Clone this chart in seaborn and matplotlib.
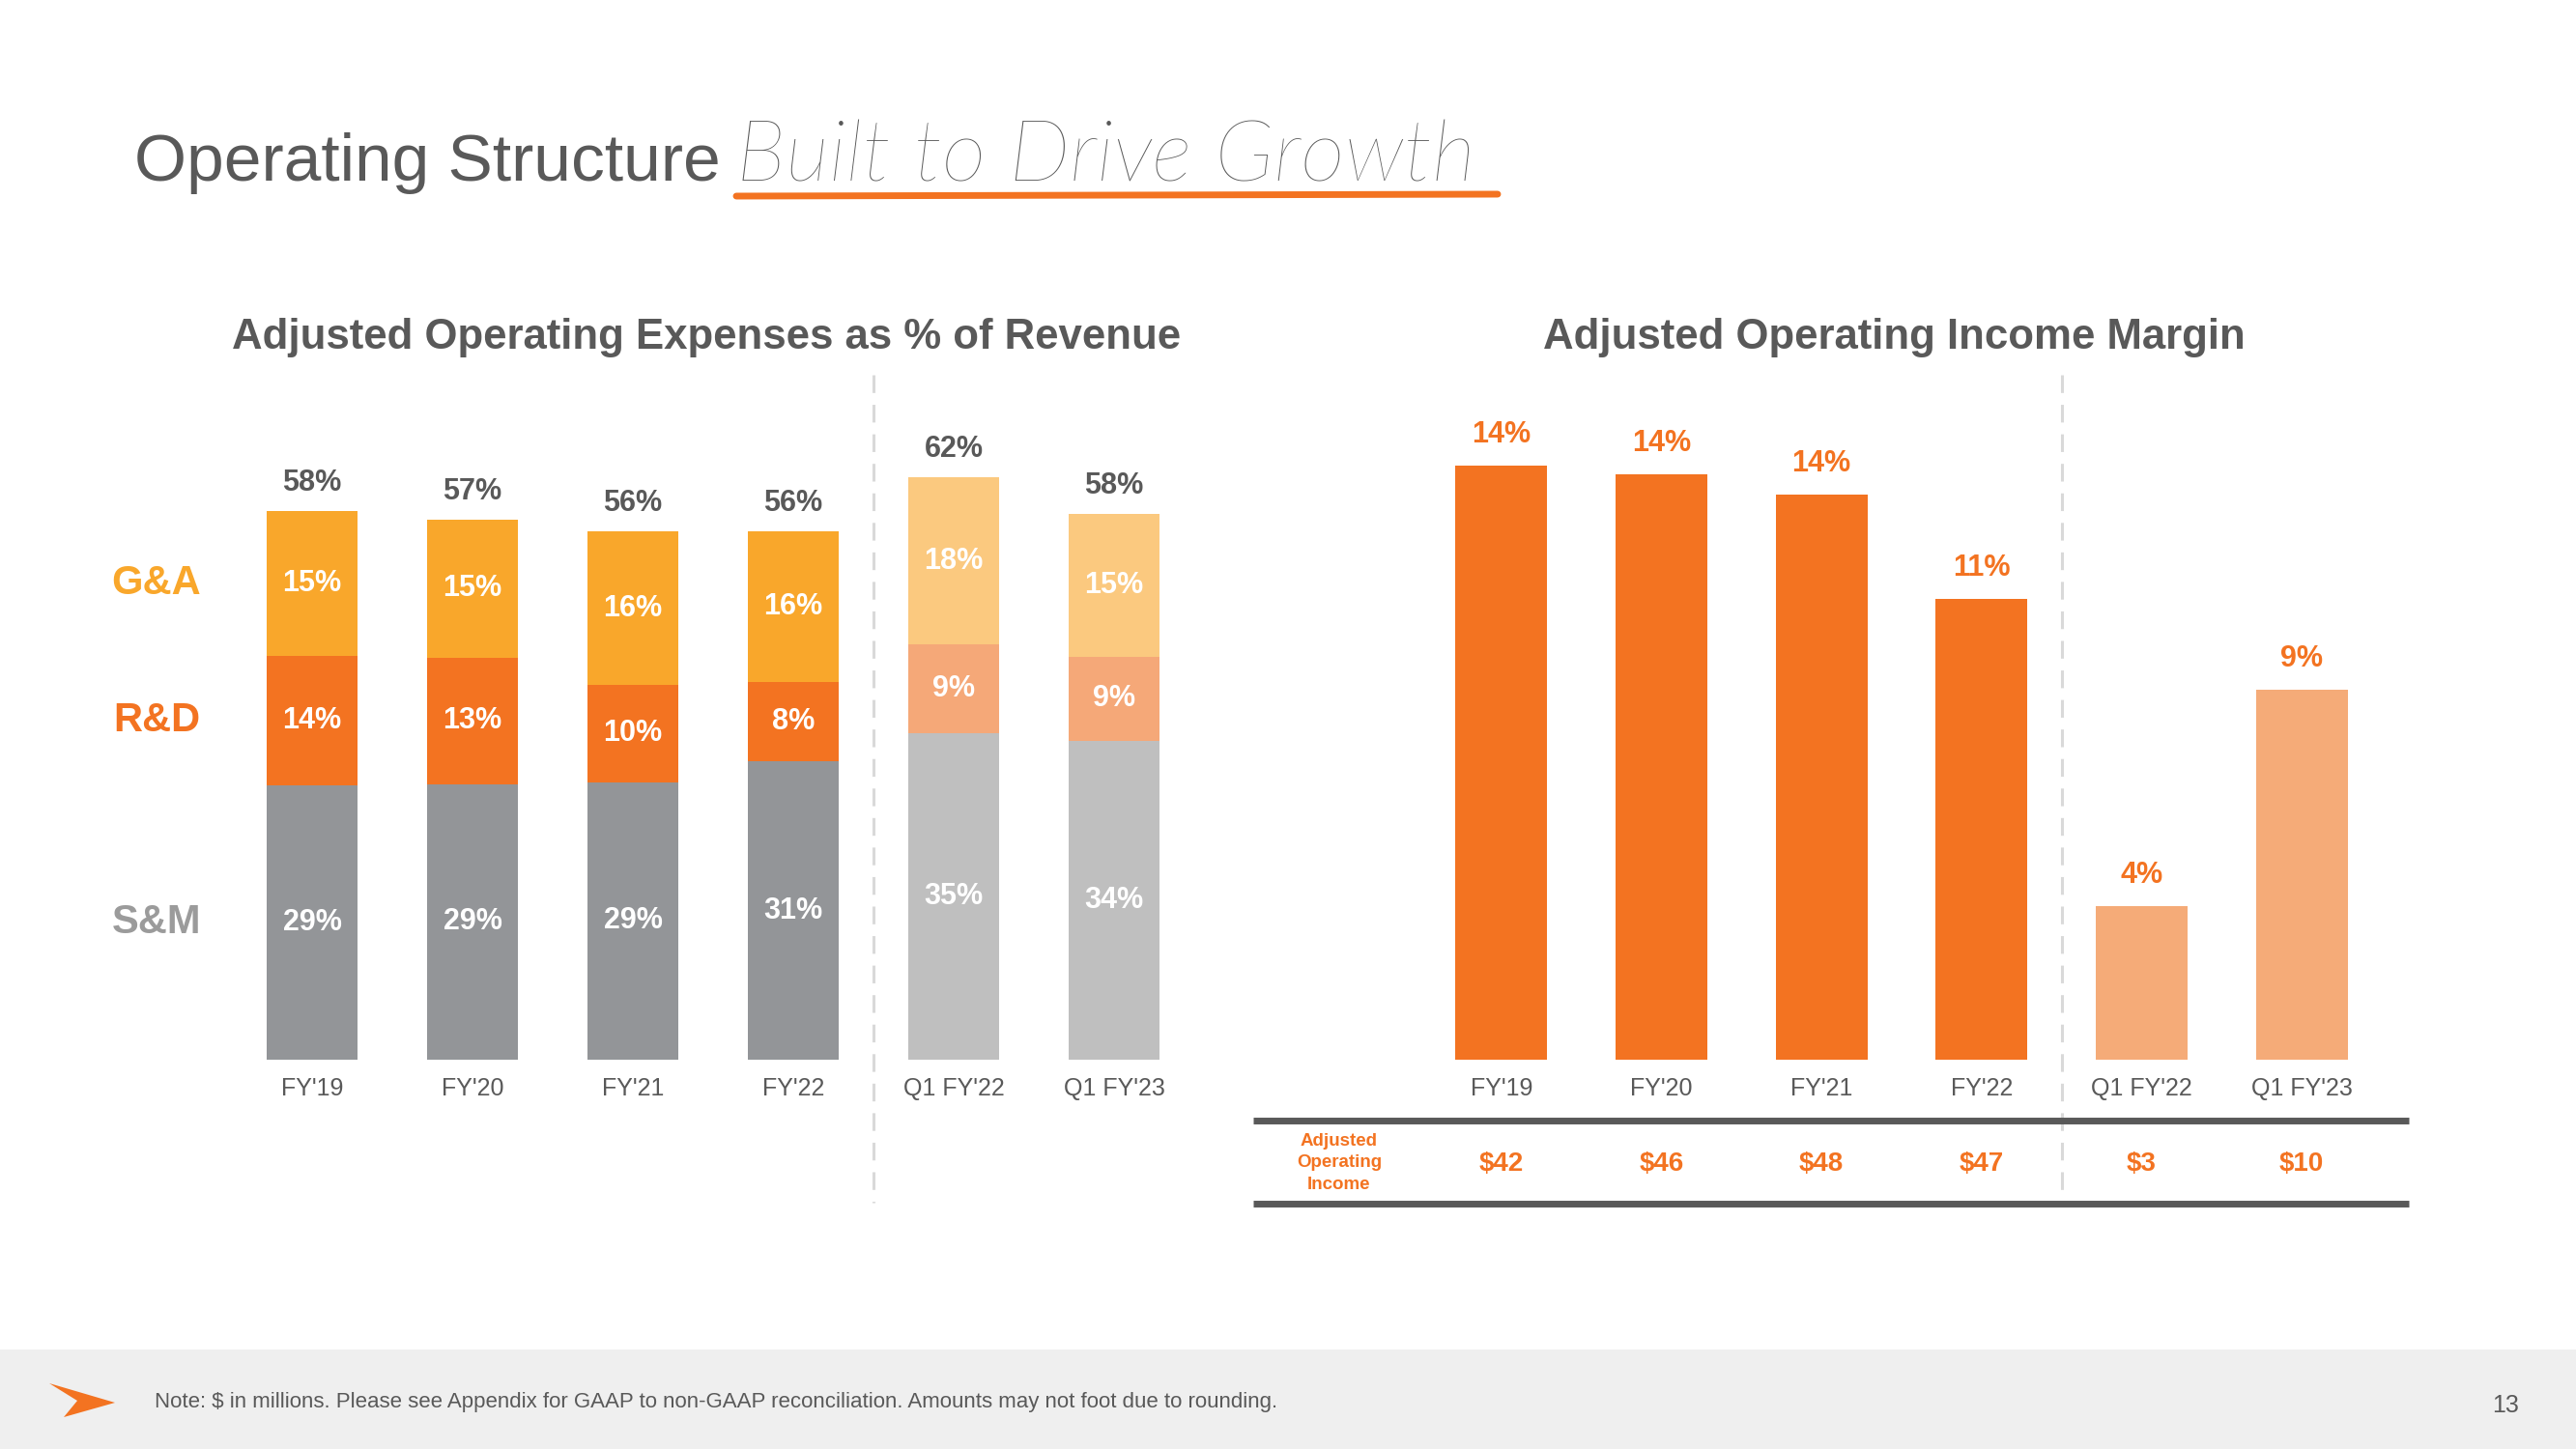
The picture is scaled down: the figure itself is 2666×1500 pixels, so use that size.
import numpy as np
import pandas as pd
import matplotlib
matplotlib.use("Agg")
import matplotlib.pyplot as plt
import matplotlib.transforms as mtransforms
from matplotlib.patches import Rectangle, Polygon
from matplotlib.lines import Line2D
import seaborn as sns

# ---------------- data ----------------
periods = ["FY'19", "FY'20", "FY'21", "FY'22", "Q1 FY'22", "Q1 FY'23"]
is_quarter = [False, False, False, False, True, True]

sm_pct = [29.1, 29.2, 29.4, 31.6, 34.6, 33.8]
rd_pct = [13.7, 13.4, 10.3, 8.4, 9.4, 8.9]
ga_pct = [15.3, 14.6, 16.3, 16.0, 17.7, 15.1]
sm_labels = ["29%", "29%", "29%", "31%", "35%", "34%"]
rd_labels = ["14%", "13%", "10%", "8%", "9%", "9%"]
ga_labels = ["15%", "15%", "16%", "16%", "18%", "15%"]
total_labels = ["58%", "57%", "56%", "56%", "62%", "58%"]
row_names = ["G&A", "R&D", "S&M"]

margin_pct = [14.3, 14.1, 13.6, 11.1, 3.7, 8.9]
margin_labels = ["14%", "14%", "14%", "11%", "4%", "9%"]
income_labels = ["$42", "$46", "$48", "$47", "$3", "$10"]

# ---------------- style ----------------
sns.set_style("white")
plt.rcParams['font.family'] = ['Liberation Sans', 'DejaVu Sans']

W, H = 2666, 1500
def fx(x):
    return x / W
def fy(y):
    return 1 - y / H

GRAY = "#595959"
ORANGE = "#F37321"
pal_sm = {p: ("#BFBFBF" if q else "#939598") for p, q in zip(periods, is_quarter)}
pal_rd = {p: ("#F5A878" if q else "#F37321") for p, q in zip(periods, is_quarter)}
pal_ga = {p: ("#FBC97F" if q else "#F9A72B") for p, q in zip(periods, is_quarter)}
pal_margin = {p: ("#F5AB78" if q else "#F37321") for p, q in zip(periods, is_quarter)}

fig = plt.figure(figsize=(W / 100, H / 100), dpi=100)
fig.patch.set_facecolor("white")

# footer band
fig.add_artist(Rectangle((0, 0), 1, 103 / H, transform=fig.transFigure,
                         facecolor="#EFEFEF", edgecolor="none", zorder=0))

BAR_W = 0.572

# ---------------- left chart ----------------
df = pd.DataFrame({"period": periods, "sm": sm_pct, "rd": rd_pct, "ga": ga_pct})
df["top_rd"] = df["sm"] + df["rd"]
df["top_ga"] = df["top_rd"] + df["ga"]

ax1 = fig.add_axes([fx(240), fy(1097), 996 / W, 709 / H])
for col, pal in [("top_ga", pal_ga), ("top_rd", pal_rd), ("sm", pal_sm)]:
    sns.barplot(data=df, x="period", y=col, hue="period", palette=pal,
                order=periods, hue_order=periods, width=BAR_W, saturation=1,
                legend=False, ax=ax1, edgecolor="none", linewidth=0)
ax1.set_xlim(-0.5, 5.5)
ax1.set_ylim(0, 709 / 9.77)

for i in range(len(periods)):
    s, r, g = sm_pct[i], rd_pct[i], ga_pct[i]
    kw = dict(ha="center", va="center", color="white", fontsize=22, fontweight="bold")
    ax1.text(i, s / 2, sm_labels[i], **kw)
    ax1.text(i, s + r / 2, rd_labels[i], **kw)
    ax1.text(i, s + r + g / 2, ga_labels[i], **kw)
    ax1.annotate(total_labels[i], (i, s + r + g), xytext=(0, 21), textcoords="offset points",
                 ha="center", va="center", color=GRAY, fontsize=22, fontweight="bold")

# row labels aligned with first bar's segments
blend_l = mtransforms.blended_transform_factory(fig.transFigure, ax1.transData)
row_y = [sm_pct[0] + rd_pct[0] + ga_pct[0] / 2, sm_pct[0] + rd_pct[0] / 2, sm_pct[0] / 2]
row_cols = ["#F9A72B", "#F37321", "#9B9B9B"]
for name, yv, c in zip(row_names, row_y, row_cols):
    fig.text(fx(162), yv, name, transform=blend_l, ha="center", va="center",
             fontsize=30, fontweight="bold", color=c)

# ---------------- right chart ----------------
dm = pd.DataFrame({"period": periods, "margin": margin_pct})
ax2 = fig.add_axes([fx(1471), fy(1097), 994 / W, 709 / H])
sns.barplot(data=dm, x="period", y="margin", hue="period", palette=pal_margin,
            order=periods, hue_order=periods, width=BAR_W, saturation=1,
            legend=False, ax=ax2, edgecolor="none", linewidth=0)
ax2.set_xlim(-0.5, 5.5)
ax2.set_ylim(0, 709 / 43.0)
for i, (v, lab) in enumerate(zip(margin_pct, margin_labels)):
    ax2.annotate(lab, (i, v), xytext=(0, 23), textcoords="offset points",
                 ha="center", va="center", color=ORANGE, fontsize=22, fontweight="bold")

for ax in (ax1, ax2):
    ax.set_xlabel("")
    ax.set_ylabel("")
    ax.set_yticks([])
    ax.set_xticks(range(len(periods)))
    ax.set_xticklabels(periods, fontsize=18, color=GRAY)
    ax.tick_params(axis="x", length=0, pad=13)
    for sp in ax.spines.values():
        sp.set_visible(False)
    ax.patch.set_alpha(0)

# dashed dividers
for ax in (ax1, ax2):
    bt = mtransforms.blended_transform_factory(ax.transData, fig.transFigure)
    fig.add_artist(Line2D([3.5, 3.5], [fy(388), fy(1245)], transform=bt,
                          color="#D9D9D9", lw=2.2, ls=(0, (6, 4))))

# table under right chart
for yy in (1160, 1246):
    fig.add_artist(Line2D([fx(1297), fx(2493)], [fy(yy), fy(yy)], transform=fig.transFigure,
                          color=GRAY, lw=5, solid_capstyle="butt"))
fig.text(fx(1386), fy(1204), "Adjusted\nOperating\nIncome", ha="center", va="center",
         color=ORANGE, fontsize=13.5, fontweight="bold", linespacing=1.4)
bt2 = mtransforms.blended_transform_factory(ax2.transData, fig.transFigure)
for i, lab in enumerate(income_labels):
    fig.text(i, fy(1205), lab, transform=bt2, ha="center", va="center",
             color=ORANGE, fontsize=20, fontweight="bold")

# chart titles
fig.text(fx(731), fy(349), "Adjusted Operating Expenses as % of Revenue", ha="center", va="center",
         fontsize=31.5, fontweight="bold", color=GRAY)
fig.text(fx(1960), fy(349), "Adjusted Operating Income Margin", ha="center", va="center",
         fontsize=31.5, fontweight="bold", color=GRAY)

# main title
fig.text(fx(139), fy(187), "Operating Structure", ha="left", va="baseline",
         fontsize=50, color=GRAY)
fig.text(fx(762), fy(187), "Built to Drive Growth", ha="left", va="baseline",
         fontsize=64, color=GRAY, style="italic", fontweight="light",
         family=["Lato", "DejaVu Sans"])
fig.add_artist(Line2D([fx(762), fx(1550)], [fy(203), fy(201)], transform=fig.transFigure,
                      color=ORANGE, lw=5, solid_capstyle="round"))

# footer
fig.text(fx(160), fy(1451), "Note: $ in millions. Please see Appendix for GAAP to non-GAAP reconciliation. "
         "Amounts may not foot due to rounding.", ha="left", va="center", fontsize=16, color=GRAY)
fig.text(fx(2593), fy(1455), "13", ha="center", va="center", fontsize=18, color=GRAY)
logo = [(51, 1432), (119, 1452), (66, 1467), (80, 1450)]
fig.add_artist(Polygon([(fx(a), fy(b)) for a, b in logo], closed=True, transform=fig.transFigure,
                       facecolor=ORANGE, edgecolor="none"))

fig.savefig("out.png", dpi=100)
